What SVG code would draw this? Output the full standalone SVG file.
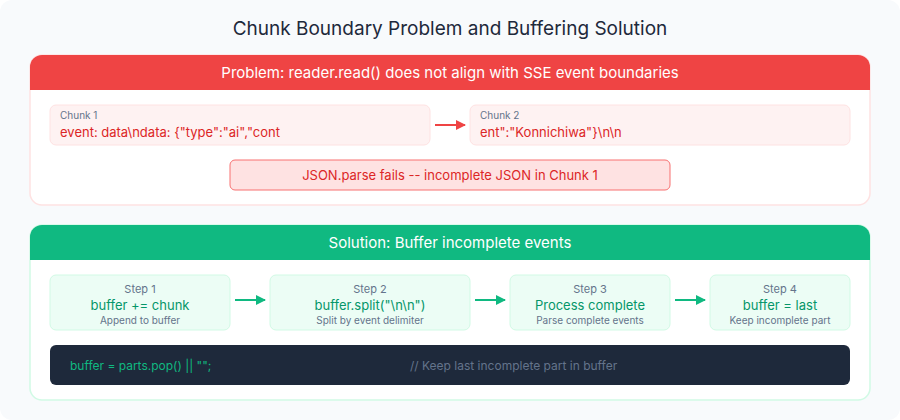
<svg xmlns="http://www.w3.org/2000/svg" width="900" height="420" viewBox="0 0 900 420">
<defs>
<style>
text{font-family:Inter,"Noto Sans","Liberation Sans",sans-serif}
.title{font-size:19px;fill:#1e293b;text-anchor:middle}
.hdr{font-size:15px;fill:#ffffff;text-anchor:middle}
.clabel{font-size:10px;fill:#64748b}
.ctext{font-size:13px;fill:#dc2626}
.chunk{fill:#fef2f2;stroke:#fee2e2;stroke-width:1}
.step{fill:#ecfdf5;stroke:#d1fae5;stroke-width:1}
.slabel{font-size:11px;fill:#64748b;text-anchor:middle}
.scode{font-size:13px;fill:#059669;text-anchor:middle}
.sdesc{font-size:10px;fill:#64748b;text-anchor:middle}
.ared{stroke:#ef4444;stroke-width:2;fill:none}
.agreen{stroke:#10b981;stroke-width:2;fill:none}
</style>
<marker id="mr" viewBox="0 0 10 10" refX="9" refY="5" markerWidth="5" markerHeight="5" orient="auto"><path d="M0,0 L10,5 L0,10 z" fill="#ef4444"/></marker>
<marker id="mg" viewBox="0 0 10 10" refX="9" refY="5" markerWidth="5" markerHeight="5" orient="auto"><path d="M0,0 L10,5 L0,10 z" fill="#10b981"/></marker>
</defs>
<rect x="0" y="0" width="900" height="420" rx="12" fill="#f8fafc"/>
<text class="title" x="450" y="35">Chunk Boundary Problem and Buffering Solution</text>

<g id="problem-panel">
<rect x="30" y="55" width="840" height="150" rx="12" fill="#ffffff" stroke="#fee2e2" stroke-width="1.5"/>
<path d="M30,90 V67 A12,12 0 0 1 42,55 H858 A12,12 0 0 1 870,67 V90 Z" fill="#ef4444"/>
<text class="hdr" x="450" y="78">Problem: reader.read() does not align with SSE event boundaries</text>
</g>
<g id="chunk1">
<rect class="chunk" x="50" y="105" width="380" height="40" rx="6"/>
<text class="clabel" x="60" y="119">Chunk 1</text>
<text class="ctext" x="60" y="137">event: data\ndata: {"type":"ai","cont</text>
</g>
<g id="chunk2">
<rect class="chunk" x="470" y="105" width="380" height="40" rx="6"/>
<text class="clabel" x="480" y="119">Chunk 2</text>
<text class="ctext" x="480" y="137">ent":"Konnichiwa"}\n\n</text>
</g>
<g id="error">
<rect x="230" y="160" width="440" height="30" rx="5" fill="#fee2e2" stroke="#f87171" stroke-width="1"/>
<text class="ctext" x="450" y="180" text-anchor="middle">JSON.parse fails -- incomplete JSON in Chunk 1</text>
</g>

<g id="solution-panel">
<rect x="30" y="225" width="840" height="175" rx="12" fill="#ffffff" stroke="#d1fae5" stroke-width="1.5"/>
<path d="M30,260 V237 A12,12 0 0 1 42,225 H858 A12,12 0 0 1 870,237 V260 Z" fill="#10b981"/>
<text class="hdr" x="450" y="248">Solution: Buffer incomplete events</text>
</g>
<g id="step1">
<rect class="step" x="50" y="275" width="180" height="55" rx="6"/>
<text class="slabel" x="140" y="293">Step 1</text>
<text class="scode" x="140" y="310">buffer += chunk</text>
<text class="sdesc" x="140" y="324">Append to buffer</text>
</g>
<g id="step2">
<rect class="step" x="270" y="275" width="200" height="55" rx="6"/>
<text class="slabel" x="370" y="293">Step 2</text>
<text class="scode" x="370" y="310">buffer.split("\n\n")</text>
<text class="sdesc" x="370" y="324">Split by event delimiter</text>
</g>
<g id="step3">
<rect class="step" x="510" y="275" width="160" height="55" rx="6"/>
<text class="slabel" x="590" y="293">Step 3</text>
<text class="scode" x="590" y="310">Process complete</text>
<text class="sdesc" x="590" y="324">Parse complete events</text>
</g>
<g id="step4">
<rect class="step" x="710" y="275" width="140" height="55" rx="6"/>
<text class="slabel" x="780" y="293">Step 4</text>
<text class="scode" x="780" y="310">buffer = last</text>
<text class="sdesc" x="780" y="324">Keep incomplete part</text>
</g>
<g id="code">
<rect x="50" y="345" width="800" height="40" rx="6" fill="#1e293b"/>
<text x="70" y="370" font-size="12" fill="#10b981">buffer = parts.pop() || "";</text>
<text x="410" y="370" font-size="12" fill="#64748b">// Keep last incomplete part in buffer</text>
</g>

<g id="connectors">
<line class="ared" x1="435" y1="125" x2="465" y2="125" marker-end="url(#mr)"/>
<line class="agreen" x1="235" y1="300" x2="265" y2="300" marker-end="url(#mg)"/>
<line class="agreen" x1="475" y1="300" x2="505" y2="300" marker-end="url(#mg)"/>
<line class="agreen" x1="675" y1="300" x2="705" y2="300" marker-end="url(#mg)"/>
</g>
</svg>
